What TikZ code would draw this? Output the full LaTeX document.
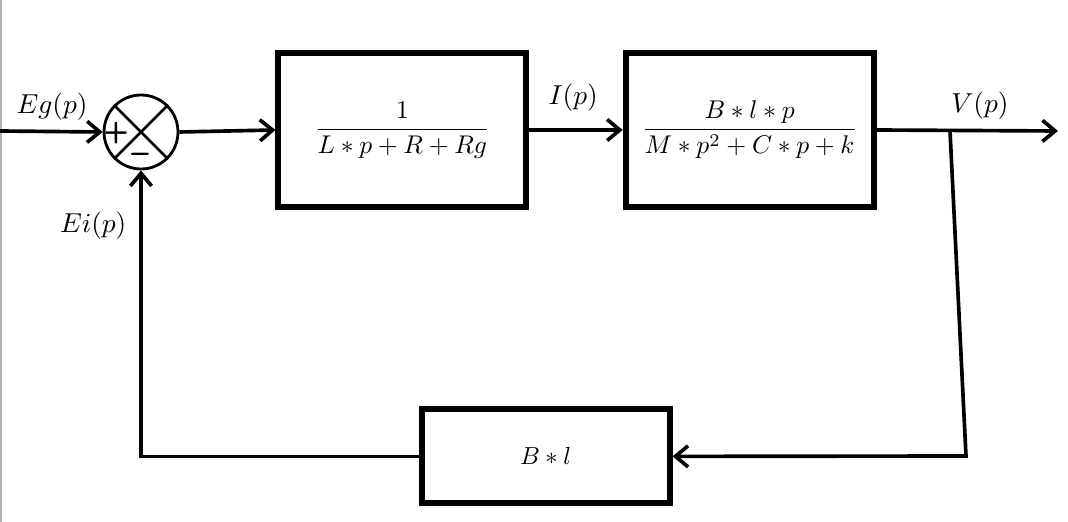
\documentclass[tikz,border=0pt]{standalone}
\usepackage{amsmath,amssymb,bm}
\usepackage{graphicx}
\usepackage{tikz}
\usetikzlibrary{arrows.meta,positioning}

\newcommand{\gros}[2][1.95]{\scalebox{#1}{#2}}

\tikzset{
  bloc/.style={draw,line width=4.2pt,minimum width=6.2cm,minimum height=3.85cm,
    inner sep=0pt},
  conn/.style={line width=2.6pt},
  fl/.style={-{Straight Barb[length=9pt,width=15pt,line width=2.6pt]}},
  lab/.style={inner sep=1pt},
  signe/.style={inner sep=0pt,font=\sffamily\bfseries}
}

\begin{document}
\begin{tikzpicture}
  \useasboundingbox (0,0) rectangle (26.7,13.05);
  \draw[gray!60,line width=1pt] (0.03,0) -- (0.03,13.05);
  % sommateur
  \node[circle,draw,line width=2pt,minimum size=1.85cm,inner sep=0pt] (sum) at (3.525,9.75) {};
  \draw[line width=2pt] (sum.north west) -- (sum.south east);
  \draw[line width=2pt] (sum.north east) -- (sum.south west);
  \node[signe] (plus) at (2.9,9.72) {\gros[2.1]{+}};
  \node[signe] (moins) at (3.5,9.1) {\gros[2.3]{--}};
  % blocs
  \node[bloc] (direct) at (10.06,9.8) {\gros[1.82]{$\displaystyle\frac{1}{L*p+R+Rg}$}};
  \node[bloc] (plant) at (18.74,9.8) {\gros[1.82]{$\displaystyle\frac{B*l*p}{M*p^2+C*p+k}$}};
  \node[bloc,minimum height=2.35cm] (retro) at (13.64,1.64) {\gros[1.75]{$B*l$}};
  % liaisons
  \coordinate (in) at (0,9.775);
  \coordinate (out) at (26.45,9.775);
  \coordinate (br) at (23.75,9.775);
  \coordinate (bc) at (24.15,1.65);
  \draw[conn,fl] (in) -- (sum.west);
  \draw[conn,fl] (sum.east) -- (direct.west);
  \draw[conn,fl] (direct.east) -- (plant.west);
  \draw[conn,fl] (plant.east) -- (out);
  \draw[conn,fl] (br) -- (bc) -- (retro.east);
  \draw[conn,fl] (retro.west) -| (sum.south);
  % signaux
  \node[lab] (eg) at (1.3,10.38) {\gros{$Eg(p)$}};
  \node[lab] (ip) at (14.33,10.6) {\gros{$I(p)$}};
  \node[lab] (vp) at (24.5,10.42) {\gros{$V(p)$}};
  \node[lab] (ei) at (2.33,7.42) {\gros{$Ei(p)$}};
\end{tikzpicture}
\end{document}
